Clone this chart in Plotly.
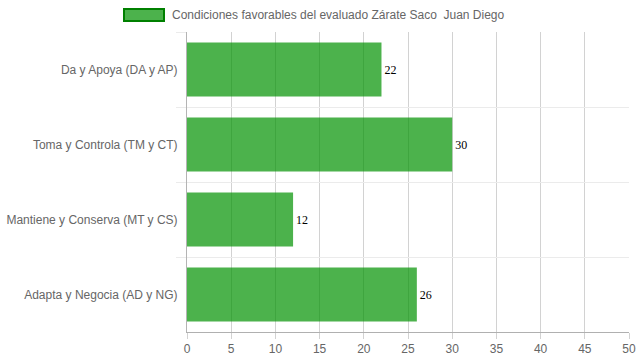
import plotly.graph_objects as go

categories = ["Da y Apoya (DA y AP)", "Toma y Controla (TM y CT)",
              "Mantiene y Conserva (MT y CS)", "Adapta y Negocia (AD y NG)"]
values = [22, 30, 12, 26]
series_name = "Condiciones favorables del evaluado Zárate Saco  Juan Diego"
x_ticks = [0, 5, 10, 15, 20, 25, 30, 35, 40, 45, 50]

bar_color = "rgba(0,145,0,0.7)"
border_color = "rgb(0,128,0)"

fig = go.Figure()
fig.add_trace(go.Bar(
    y=categories, x=values, orientation="h",
    marker=dict(color=bar_color, line=dict(width=0)),
    width=0.72,
    text=[str(v) for v in values], textposition="outside",
    textfont=dict(family="Liberation Serif, Times New Roman, serif", size=12, color="#000"),
    cliponaxis=False, showlegend=False, name=series_name, hoverinfo="skip",
))

fig.update_layout(
    width=639, height=360,
    margin=dict(l=187, r=10, t=32, b=28, autoexpand=False),
    paper_bgcolor="white", plot_bgcolor="white",
    font=dict(family="Arial, Liberation Sans, sans-serif", size=12, color="#666"),
    bargap=0.28,
    uniformtext=dict(minsize=12, mode="show"),
)
fig.update_xaxes(
    range=[0, 50], tickvals=x_ticks, showgrid=True, gridcolor="#d2d2d2", gridwidth=1,
    ticks="outside", ticklen=6, tickcolor="#d2d2d2",
    showline=True, linecolor="#b0b0b0", linewidth=1, automargin=False,
    zeroline=False, tickfont=dict(size=12, color="#666"), fixedrange=True,
)
fig.update_yaxes(
    type="category", categoryorder="array", categoryarray=categories,
    autorange="reversed", tickson="boundaries", automargin=False,
    showgrid=True, gridcolor="#ebebeb", gridwidth=1,
    ticks="outside", ticklen=10, tickcolor="#ebebeb",
    showline=True, linecolor="#b4b4b4", linewidth=1,
    tickfont=dict(size=12, color="#666"), ticklabelstandoff=6, fixedrange=True,
)

# legend drawn like the original (wide swatch with dark border)
fig.add_shape(type="rect", xref="paper", yref="paper",
              x0=(124 - 187) / 442, x1=(164 - 187) / 442,
              y0=(332 - 21) / 300, y1=(332 - 9) / 300,
              fillcolor=bar_color, line=dict(color=border_color, width=2))
fig.add_annotation(xref="paper", yref="paper", x=(170 - 187) / 442, y=(332 - 15) / 300,
                   text=series_name, showarrow=False, xanchor="left", yanchor="middle",
                   font=dict(size=12, color="#666"))

fig.write_html("out.html", config={"displayModeBar": False},
               post_script="document.body.style.margin='0';document.body.style.overflow='hidden';")
